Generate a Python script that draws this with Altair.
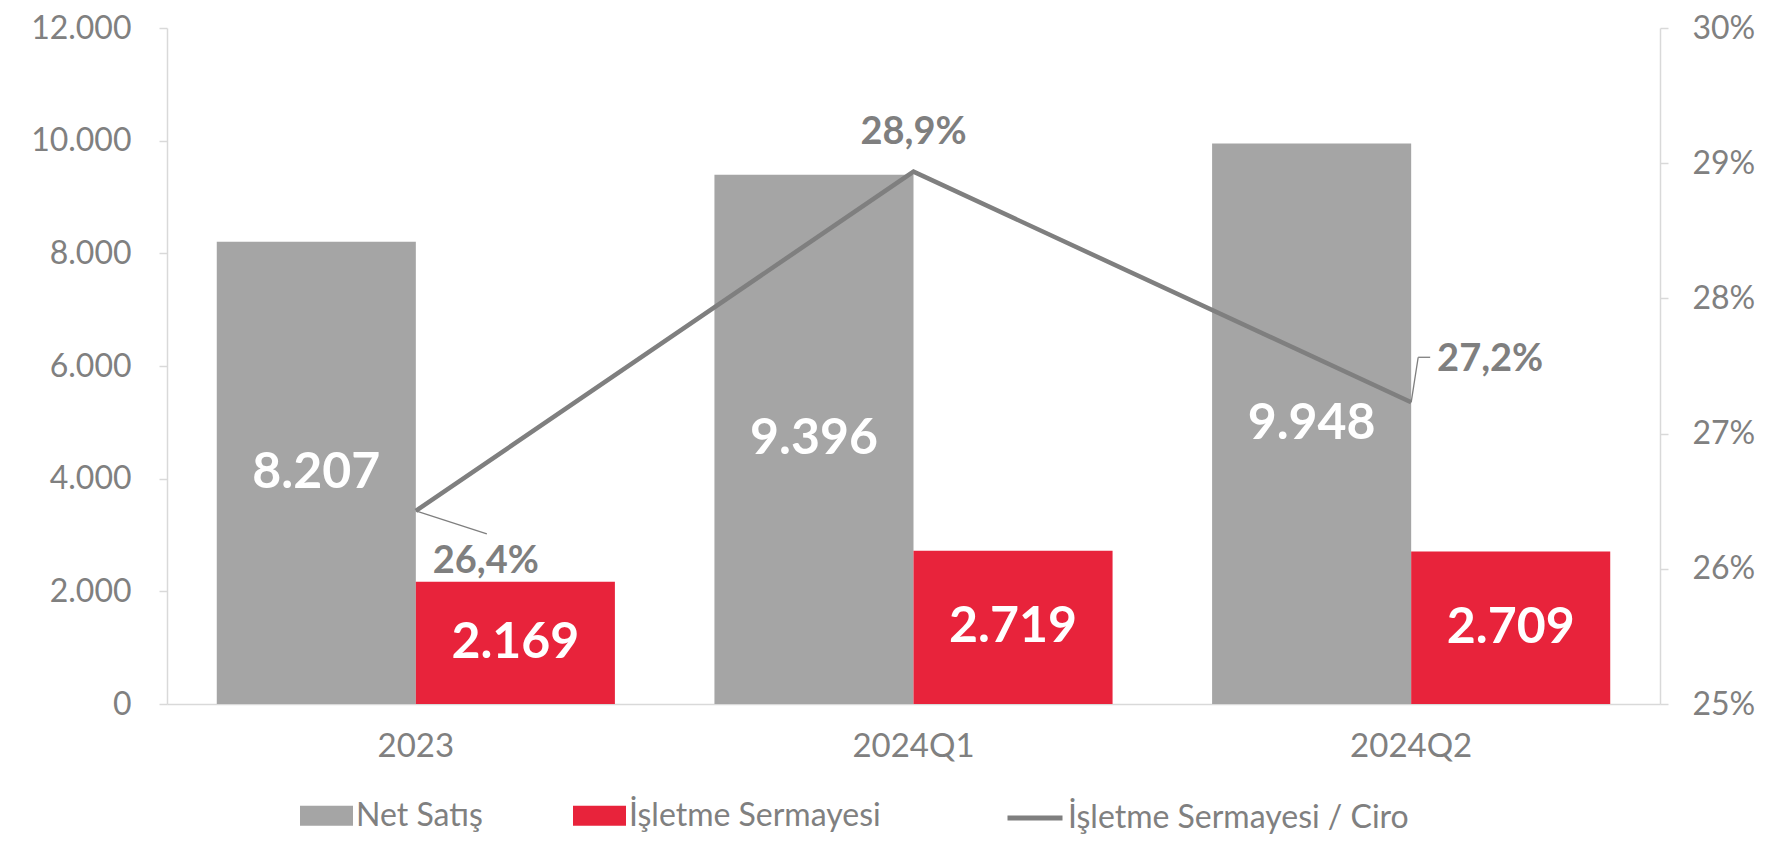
import altair as alt
import pandas as pd

categories = ["2023", "2024Q1", "2024Q2"]
net_satis = [8207, 9396, 9948]
isletme_sermayesi = [2169, 2719, 2709]
series_names = ["Net Satış", "İşletme Sermayesi"]
ratio_name = "İşletme Sermayesi / Ciro"
left_ticks = [0, 2000, 4000, 6000, 8000, 10000, 12000]
right_ticks = [0.25, 0.26, 0.27, 0.28, 0.29, 0.30]

GRAY = "#A5A5A5"
RED = "#E8233B"
LINE = "#7F7F7F"
TEXT = "#808080"
AXIS = "#D9D9D9"
FONT = "Lato"


def tr_int(v):
    return f"{v:,}".replace(",", ".")


def tr_pct(p):
    return f"{p * 100:.1f}%".replace(".", ",")


rows = []
for c, a, b in zip(categories, net_satis, isletme_sermayesi):
    rows.append({"Kategori": c, "Seri": series_names[0], "Deger": a, "Etiket": tr_int(a)})
    rows.append({"Kategori": c, "Seri": series_names[1], "Deger": b, "Etiket": tr_int(b)})
bars_df = pd.DataFrame(rows)

ratios = [b / a for a, b in zip(net_satis, isletme_sermayesi)]
line_df = pd.DataFrame({
    "Kategori": categories,
    "Oran": ratios,
    "Etiket": [tr_pct(r) for r in ratios],
    "Metrik": [ratio_name] * 3,
})

x_enc = alt.X(
    "Kategori:N",
    sort=categories,
    scale=alt.Scale(paddingInner=0.2, paddingOuter=0.1),
    axis=alt.Axis(
        title=None, labelAngle=0, ticks=False, domainColor=AXIS, domainWidth=1.5,
        labelPadding=26, labelFontSize=33, labelColor=TEXT, labelFont=FONT,
    ),
)
xoff_enc = alt.XOffset("Seri:N", sort=series_names, scale=alt.Scale(paddingInner=0, paddingOuter=0))

y_left = alt.Y(
    "Deger:Q",
    scale=alt.Scale(domain=[0, 12000], nice=False),
    axis=alt.Axis(
        title=None, values=left_ticks, grid=False,
        labelExpr="replace(format(datum.value, ','), ',', '.')",
        domainColor=AXIS, domainWidth=1.5, tickColor=AXIS, tickWidth=1.5, tickSize=8,
        labelPadding=28, labelFontSize=32, labelColor=TEXT, labelFont=FONT,
    ),
)

bars = alt.Chart(bars_df).mark_bar().encode(
    x=x_enc,
    xOffset=xoff_enc,
    y=y_left,
    color=alt.Color(
        "Seri:N",
        sort=series_names,
        scale=alt.Scale(domain=series_names, range=[GRAY, RED]),
        legend=alt.Legend(
            title=None, orient="none", legendX=133, legendY=761, direction="horizontal",
            symbolType="M-1,-0.38H1V0.38H-1Z", symbolSize=2809, symbolStrokeWidth=0,
            labelFont=FONT, labelFontSize=32, labelColor=TEXT, labelOffset=3,
            labelLimit=0, columnPadding=90,
        ),
    ),
)

bar_text = alt.Chart(bars_df).transform_calculate(
    Orta="datum.Deger / 2"
).mark_text(
    font=FONT, fontWeight="bold", fontSize=50, color="white", baseline="middle", align="center"
).encode(
    x=alt.X("Kategori:N", sort=categories),
    xOffset=xoff_enc,
    y=alt.Y("Orta:Q"),
    text="Etiket:N",
)

left = alt.layer(bars, bar_text)

y_right = alt.Y(
    "Oran:Q",
    scale=alt.Scale(domain=[0.25, 0.30], nice=False),
    axis=alt.Axis(
        title=None, orient="right", values=right_ticks, format=".0%", grid=False,
        domainColor=AXIS, domainWidth=1.5, tickColor=AXIS, tickWidth=1.5, tickSize=8,
        labelPadding=24, labelFontSize=32, labelColor=TEXT, labelFont=FONT,
    ),
)

line = alt.Chart(line_df).mark_line(strokeWidth=4.5).encode(
    x=alt.X("Kategori:N", sort=categories),
    y=y_right,
    stroke=alt.Stroke(
        "Metrik:N",
        scale=alt.Scale(domain=[ratio_name], range=[LINE]),
        legend=alt.Legend(
            title=None, orient="none", legendX=838, legendY=760, direction="horizontal",
            symbolType="stroke", symbolSize=3025, symbolStrokeWidth=5,
            labelFont=FONT, labelFontSize=32, labelColor=TEXT, labelOffset=3,
            labelLimit=0,
        ),
    ),
)

offsets = {"2023": (70, 51), "2024Q1": (0, -39), "2024Q2": (79, -42)}
pct_layers = []
for cat, (dx, dy) in offsets.items():
    pct_layers.append(
        alt.Chart(line_df).transform_filter(alt.datum.Kategori == cat).mark_text(
            font=FONT, fontWeight="bold", fontSize=38, color=LINE,
            baseline="middle", align="center", dx=dx, dy=dy,
        ).encode(
            x=alt.X("Kategori:N", sort=categories),
            y=alt.Y("Oran:Q"),
            text="Etiket:N",
        )
    )

leader_specs = [
    ("2023", dict(xOffset=0, yOffset=0, x2Offset=71, y2Offset=23)),
    ("2024Q2", dict(xOffset=0, yOffset=0, x2Offset=7, y2Offset=-45)),
    ("2024Q2", dict(xOffset=7, yOffset=-45, x2Offset=19, y2Offset=-45)),
]
leaders = []
for cat, off in leader_specs:
    leaders.append(
        alt.Chart(line_df).transform_filter(alt.datum.Kategori == cat).mark_rule(
            color=LINE, strokeWidth=1.3, **off
        ).encode(
            x=alt.X("Kategori:N", sort=categories),
            x2="Kategori:N",
            y=alt.Y("Oran:Q"),
            y2="Oran:Q",
        )
    )

right = alt.layer(line, *leaders, *pct_layers)

chart = alt.layer(left, right).resolve_scale(
    y="independent", color="independent", stroke="independent"
).properties(
    width=1493,
    height=676,
    autosize=alt.AutoSizeParams(type="none"),
    padding={"left": 159, "top": 20, "right": 100, "bottom": 133},
).configure_view(strokeWidth=0).configure_legend(padding=0)

chart.save("out.html", embed_options={"renderer": "svg", "actions": False})
